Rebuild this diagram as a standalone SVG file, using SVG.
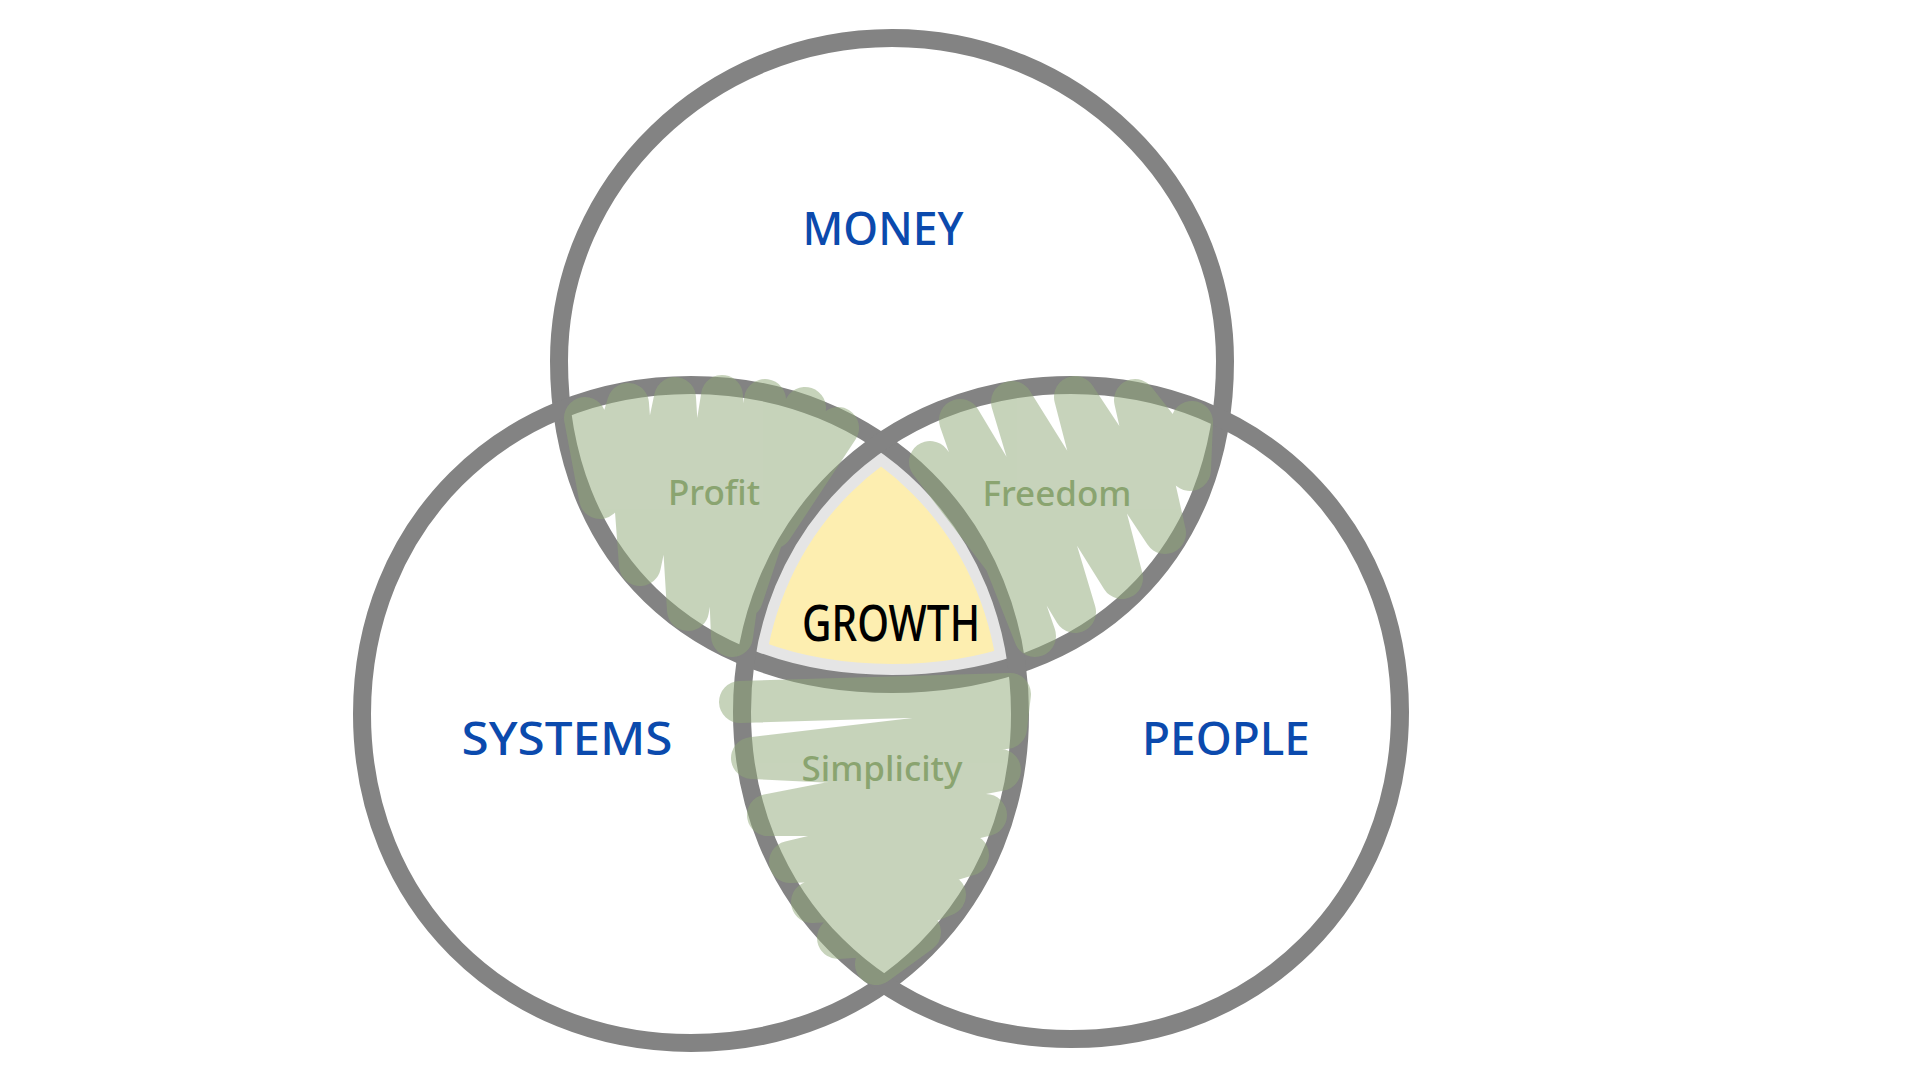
<svg xmlns="http://www.w3.org/2000/svg" width="1920" height="1080" viewBox="0 0 1920 1080">
  <style>
    .ring { fill: none; stroke: #838383; stroke-width: 18; stroke-linejoin: round; }
    .band { fill: none; stroke: #e5e5e5; stroke-width: 40; }
    .scribble { fill: none; stroke: #8fa878; stroke-width: 42; stroke-linecap: round; stroke-linejoin: round; }
    .main { font-family: "Noto Sans", "DejaVu Sans", sans-serif; font-size: 46px; font-weight: 500; fill: #0b4aad; text-anchor: middle; }
    .sub { font-family: "Noto Sans", "DejaVu Sans", sans-serif; font-size: 35px; font-weight: 500; fill: #8aa470; text-anchor: middle; }
    .core { font-family: "Noto Sans", "DejaVu Sans", sans-serif; font-size: 50px; font-weight: 500; fill: #000000; text-anchor: middle; }
  </style>
  <defs>
    <path id="shapeTop" d="M559,361 C559,183 709,38 892,38 C1075,38 1225,183 1225,361 C1225,555 1092,684 892,684 C692,684 559,555 559,361 Z"/>
    <path id="shapeLeft" d="M362,714 C362,526 503,385 691,385 C879,385 1020,526 1020,714 C1020,902 879,1043 691,1043 C503,1043 362,902 362,714 Z"/>
    <path id="shapeRight" d="M742,712 C742,526 884,385 1071,385 C1259,385 1400,526 1400,712 C1400,898 1259,1039 1071,1039 C884,1039 742,898 742,712 Z"/>
    <clipPath id="clipLeft"><use href="#shapeLeft"/></clipPath>
    <clipPath id="clipRight"><use href="#shapeRight"/></clipPath>
    <clipPath id="clipTop"><use href="#shapeTop"/></clipPath>
  </defs>
  <rect width="1920" height="1080" fill="#ffffff"/>

  <g id="growth">
    <g clip-path="url(#clipLeft)">
      <g clip-path="url(#clipRight)">
        <g clip-path="url(#clipTop)">
          <rect x="700" y="400" width="400" height="320" fill="#fdeeb0"/>
          <use href="#shapeTop" class="band"/>
          <use href="#shapeLeft" class="band"/>
          <use href="#shapeRight" class="band"/>
        </g>
      </g>
    </g>
  </g>

  <g id="money"><use href="#shapeTop" class="ring"/></g>
  <g id="systems"><use href="#shapeLeft" class="ring"/></g>
  <g id="people"><use href="#shapeRight" class="ring"/></g>

  <g id="scribbles" opacity="0.5">
    <path id="profit-fill" class="scribble" d="M585,418 L600,498 L628,404 L640,565 L675,398 L688,610 L722,396 L732,636 L765,400 L742,598 L805,408 L772,528 L838,428 L800,470"/>
    <path id="freedom-fill" class="scribble" d="M930,462 L1005,560 L1035,636 L960,420 L1075,612 L1012,402 L1122,578 L1075,397 L1165,533 L1135,400 L1190,470 L1192,422"/>
    <path id="simplicity-fill" class="scribble" d="M740,702 L1010,694 L1006,728 L752,758 L1000,770 L768,815 L986,815 L790,862 L968,855 L812,902 L945,895 L838,938 L920,932 L876,964"/>
  </g>

  <g id="labels">
    <text class="main" x="883" y="245" textLength="161" lengthAdjust="spacingAndGlyphs">MONEY</text>
    <text class="main" x="567" y="755" textLength="211" lengthAdjust="spacingAndGlyphs">SYSTEMS</text>
    <text class="main" x="1226" y="755" textLength="168" lengthAdjust="spacingAndGlyphs">PEOPLE</text>
    <text class="core" x="891" y="641" textLength="178" lengthAdjust="spacingAndGlyphs">GROWTH</text>
    <text class="sub" x="714" y="505">Profit</text>
    <text class="sub" x="1057" y="506">Freedom</text>
    <text class="sub" x="882" y="781">Simplicity</text>
  </g>
</svg>
